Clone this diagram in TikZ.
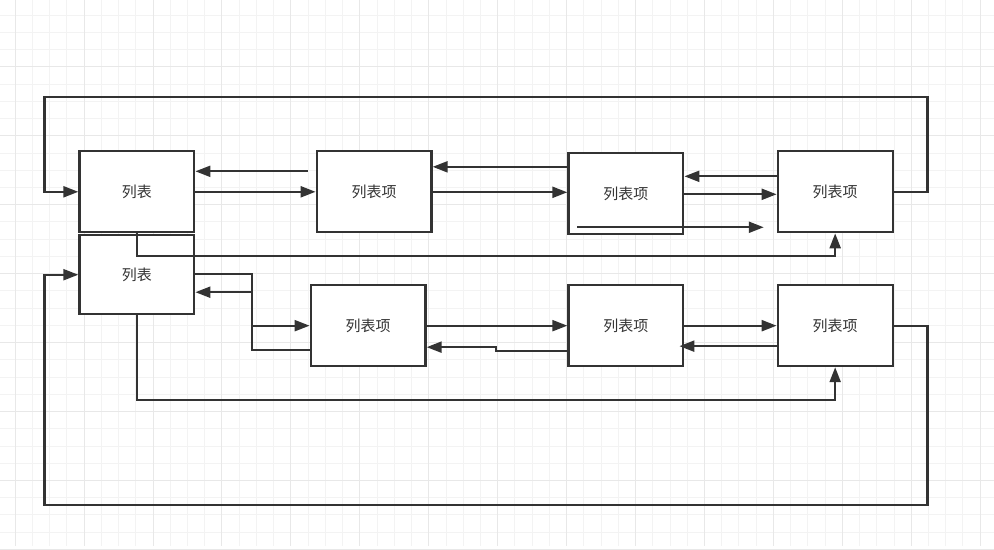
\documentclass[tikz,border=0pt]{standalone}
\usepackage{fontspec}
\setmainfont{Noto Sans CJK SC}
\usepackage{tikz}
\usetikzlibrary{
arrows.meta,
positioning,
calc
}
\definecolor{linegray}{HTML}{333333}
\definecolor{gridminor}{HTML}{F3F3F3}
\definecolor{gridmajor}{HTML}{E8E8E8}

\begin{document}
\begin{tikzpicture}[
x=1pt, y=-1pt,
box/.style={
rectangle,
draw=linegray,
line width=2.2pt,
fill=white,
minimum width=115pt,
minimum height=81pt,
inner sep=0pt,
text=linegray,
font=\fontsize{15}{17}\selectfont
},
arrow/.style={-{Triangle[length=15pt,width=11pt]},line width=2.2pt,draw=linegray},
gridline/.style={line width=1pt}
]

% background grid
\fill[white] (0,0) rectangle (994,546);
\foreach \k in {0,...,56}
  \draw[gridline,gridminor] (14.7+\k*17.25,0) -- (14.7+\k*17.25,546);
\foreach \k in {0,...,30}
  \draw[gridline,gridminor] (0,14.7+\k*17.25) -- (994,14.7+\k*17.25);
\foreach \k in {0,4,...,56}
  \draw[gridline,gridmajor] (14.7+\k*17.25,0) -- (14.7+\k*17.25,546);
\foreach \k in {3,7,...,31}
  \draw[gridline,gridmajor] (0,14.7+\k*17.25) -- (994,14.7+\k*17.25);

% nodes
\node[box] (listA) at (136.5,191.5) {列表};
\node[box, minimum height=79pt] (listB) at (136.5,274.5) {列表};

\node[box] (itemA1) at (374,191.5) {列表项};
\node[box] (itemA2) at (626,193.5) {列表项};
\node[box] (itemA3) at (835.5,191.5) {列表项};

\node[box] (itemB1) at (368,325.5) {列表项};
\node[box] (itemB2) at (626,325.5) {列表项};
\node[box] (itemB3) at (835.5,325.5) {列表项};

\coordinate (loose) at (764,227);

% upper row
\draw[arrow] (itemA3.east) -- (928,191.5) |- (44,97) |- (listA.west);
\draw[arrow] ($(itemA1.west |- 0,171)+(-8,0)$) -- (listA.east |- 0,171);
\draw[arrow] (listA.east) -- (itemA1.west);
\draw[arrow] (itemA2.west |- 0,166.5) -- (itemA1.east |- 0,166.5);
\draw[arrow] (itemA1.east |- 0,192) -- (itemA2.west |- 0,192);
\draw[arrow] (itemA3.west |- 0,176) -- (itemA2.east |- 0,176);
\draw[arrow] (itemA2.east |- 0,194) -- (itemA3.west |- 0,194);
\draw[arrow] ($(itemA2.west |- loose)+(10,0)$) -- (loose);
\draw[arrow] (listA.south) -- (136.5,255.5) -| (itemA3.south);

% lower row
\draw[arrow] (listB.east |- 0,274) -| (252,325.5) -- (itemB1.west);
\draw[arrow] (itemB1.west |- 0,350) -| (252,292) -- (listB.east |- 0,292);
\draw[arrow] (itemB1.east) -- (itemB2.west);
\draw[arrow] (itemB2.west |- 0,351) -- (496,351) -- (496,347) -- (itemB1.east |- 0,347);
\draw[arrow] (itemB2.east) -- (itemB3.west);
\draw[arrow] (itemB3.west |- 0,346) -- ($(itemB2.east |- 0,346)+(-5,0)$);
\draw[arrow] (listB.south) -- (136.5,400) -| (itemB3.south);
\draw[arrow] (itemB3.east) -- (928,325.5) |- (44,505) |- (listB.west);

\end{tikzpicture}
\end{document}
